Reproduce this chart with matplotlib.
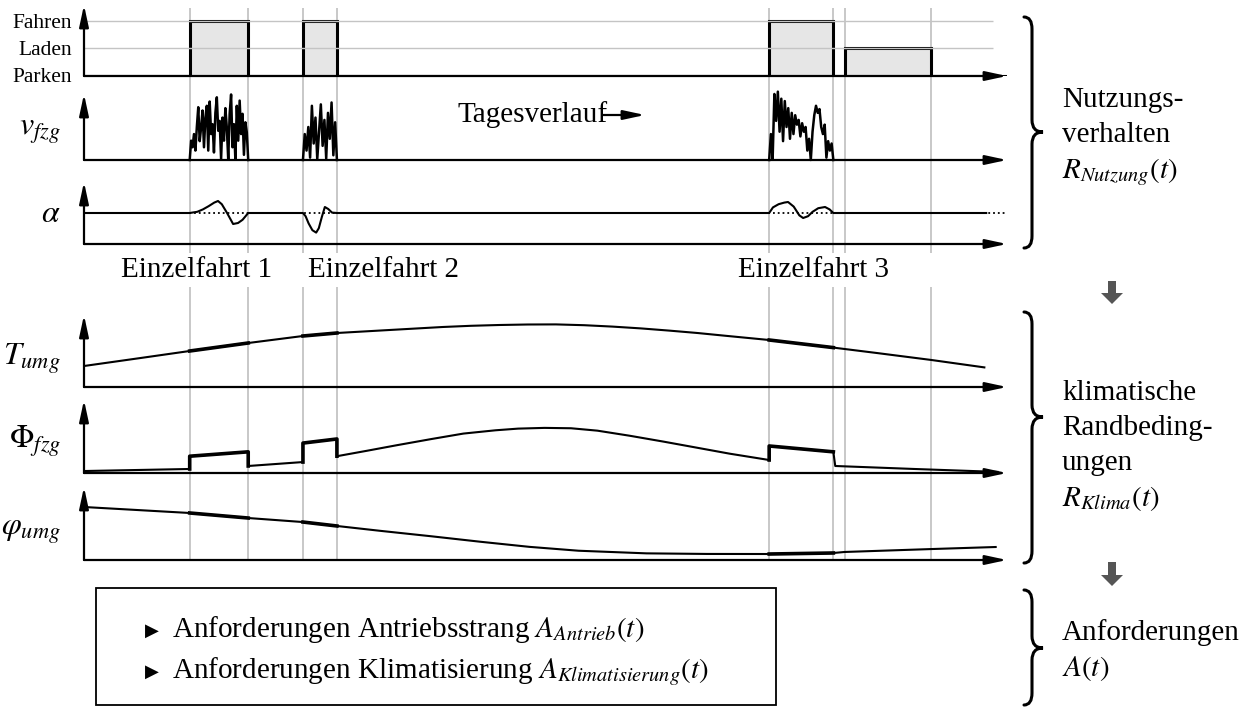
import numpy as np
import matplotlib
matplotlib.use('Agg')
import matplotlib.pyplot as plt
from matplotlib.path import Path
from matplotlib.patches import PathPatch, Rectangle, FancyArrow

plt.rcParams['font.family'] = ['Liberation Serif', 'DejaVu Sans']
plt.rcParams['mathtext.fontset'] = 'stix'

W, H = 1258, 708

# time axis in hours over one day
T_END = 24.45
T_EVENTS = [2.8, 4.35, 5.8, 6.7, 18.15, 19.85, 20.15, 22.45]

# usage state: 0 Parken, 1 Laden, 2 Fahren
STATE_LABELS = ['Parken', 'Laden', 'Fahren']
STATE_EDGES = [0, 2.8, 4.35, 5.8, 6.7, 18.15, 19.85, 20.15, 22.45, T_END]
STATE_VALUES = [0, 2, 0, 2, 0, 2, 0, 1, 0]

TRIPS = [(2.8, 4.35), (5.8, 6.7), (18.15, 19.85)]
TRIP_LABELS = ['Einzelfahrt 1', 'Einzelfahrt 2', 'Einzelfahrt 3']

# vehicle speed per trip (km/h, equally spaced samples)
V_TRIP1 = [0, 41, 27, 55, 20, 70, 112, 40, 69, 105, 27, 90, 115, 20, 124, 55, 76, 16, 100,
           133, 62, 83, 2, 90, 41, 110, 69, 1, 98, 139, 27, 76, 1, 115, 41, 126, 55, 98,
           11, 80, 59, 0]
V_TRIP2 = [0, 55, 20, 70, 5, 115, 35, 90, 2, 60, 118, 30, 85, 3, 100, 45, 122, 10, 80, 0]
V_TRIP3 = [0, 55, 2, 140, 83, 145, 60, 130, 40, 125, 70, 110, 45, 100, 55, 95, 75, 85, 50,
           78, 60, 70, 20, 45, 0, 60, 95, 115, 100, 108, 70, 55, 75, 5, 40, 20, 35, 0]
V_TRIPS = [V_TRIP1, V_TRIP2, V_TRIP3]

# road gradient
ALPHA_T = [0,
           2.8, 3.0, 3.15, 3.3, 3.45, 3.55, 3.65, 3.79, 3.95, 4.08, 4.2, 4.35,
           5.8, 5.87, 5.95, 6.05, 6.15, 6.22, 6.3, 6.38, 6.47, 6.57, 6.7,
           18.15, 18.25, 18.4, 18.55, 18.65, 18.8, 18.95, 19.05, 19.18, 19.3, 19.45, 19.63, 19.75, 19.85,
           23.9]
ALPHA = [0,
         0, 0.3, 0.9, 1.7, 2.6, 3.0, 2.2, 0.0, -2.75, -2.5, -1.7, 0,
         0, -0.8, -2.6, -4.3, -4.9, -3.8, -1.0, 1.5, 1.0, 0.1, 0,
         0, 1.4, 2.2, 2.6, 2.75, 1.6, -0.6, -1.25, -0.8, 0.3, 1.2, 1.5, 0.9, 0,
         0]

# ambient temperature
T_UMG_T = [0, 1.5, 2.8, 4.35, 5.8, 6.7, 8, 9.5, 10.25, 11, 11.75, 12.5, 13.25, 14, 14.75,
           15.5, 16.25, 17, 18.15, 19.85, 21, 22.45, 23.85]
T_UMG = [10.5, 14.5, 18, 22, 25.5, 27, 28.4, 30, 30.6, 31, 31.25, 31.3, 30.9, 30.2, 29.3,
         28.2, 27, 25.6, 23.5, 19.7, 17, 13.5, 9.8]

# vehicle radiation load
PHI_T = [0, 2.8, 2.8, 4.35, 4.35, 5.8, 5.8, 6.7, 6.7, 7.5, 8.28, 9.2, 10.05, 10.9, 11.5,
         12.2, 12.9, 13.6, 14.46, 15.35, 16.2, 17.1, 18.15, 18.15, 19.85, 19.9, 22, 24.2]
PHI = [2.7, 5.5, 23, 29, 9.6, 15, 41, 46.6, 23, 30.5, 38, 46.5, 54, 58.5, 60.8,
       61.8, 61.3, 58, 51, 43, 35, 26.5, 17.8, 37, 29, 9.6, 5.5, 1.5]

# ambient relative humidity
HUM_T = [0, 2.8, 4.35, 5.8, 6.7, 7.84, 9.2, 10.5, 11.8, 13.1, 14.9, 16.5, 18.15, 19.85,
         20.15, 22.45, 24.15]
HUM = [72.6, 64.4, 57.5, 52, 46.6, 40, 32.5, 25, 18, 12.7, 9.1, 8.3, 8.2, 9.6,
       11, 15, 17.8]

fig = plt.figure(figsize=(W / 100, H / 100), dpi=100)
fig.patch.set_facecolor('white')

X0, X1 = 84, 1007


def box_axes(top, bottom):
    return fig.add_axes([X0 / W, 1 - bottom / H, (X1 - X0) / W, (bottom - top) / H])


arrow_style = dict(arrowstyle='-|>,head_length=1.3,head_width=0.28', color='k', lw=1.6,
                   shrinkA=0, shrinkB=0)


def panel(top, bottom, ylim):
    ax = box_axes(top, bottom)
    ax.set_xlim(0, T_END)
    ax.set_ylim(*ylim)
    ax.axis('off')
    ax.annotate('', xy=(1, 0), xytext=(0, 0), xycoords='axes fraction',
                arrowprops=arrow_style, annotation_clip=False)
    ax.annotate('', xy=(0, 1), xytext=(0, 0), xycoords='axes fraction',
                arrowprops=arrow_style, annotation_clip=False)
    return ax


# gray event lines
for top, bottom in [(8, 253), (287, 560)]:
    g = box_axes(top, bottom)
    g.set_xlim(0, T_END)
    g.axis('off')
    for t in T_EVENTS:
        g.axvline(t, color='#c4c4c4', lw=1.3)

# state panel
ax1 = panel(5, 76, (0, 2.58))
ax1.hlines([1, 2], 0, 24.08, color='#c4c4c4', lw=1)
ax1.stairs(STATE_VALUES, STATE_EDGES, baseline=0, fill=True, color='#e6e6e6')
ax1.stairs(STATE_VALUES, STATE_EDGES, baseline=None, color='k', lw=2.2)

# speed panel
ax2 = panel(94, 160, (0, 140))
for (a, b), v in zip(TRIPS, V_TRIPS):
    ax2.plot(np.linspace(a, b, len(v)), v, color='k', lw=1.8, clip_on=False)

# gradient panel
ax3 = panel(182, 244, (-7.75, 7.75))
ax3.plot([0, T_END], [0, 0], color='k', lw=1.3, ls=':')
ax3.plot(ALPHA_T, ALPHA, color='k', lw=1.5)


def thick_trips(ax, t, y):
    t = np.asarray(t)
    y = np.asarray(y)
    ax.plot(t, y, color='k', lw=1.5)
    for a, b in TRIPS:
        m = (t >= a) & (t <= b)
        ax.plot(t[m], y[m], color='k', lw=2.6)


ax4 = panel(315, 387, (0, 36))
thick_trips(ax4, T_UMG_T, T_UMG)
ax5 = panel(400, 473, (0, 100))
thick_trips(ax5, PHI_T, PHI)
ax6 = panel(487, 560, (0, 100))
thick_trips(ax6, HUM_T, HUM)

# overlay for labels, braces, box
ov = fig.add_axes([0, 0, 1, 1])
ov.set_xlim(0, W)
ov.set_ylim(H, 0)
ov.axis('off')

for lab, yb in zip(STATE_LABELS, [82, 55, 28]):
    ov.text(72, yb, lab, ha='right', va='baseline', fontsize=15.5)

math_labels = [(r'$v_{fzg}$', 135), (r'$\alpha$', 222), (r'$T_{umg}$', 365),
               (r'$\Phi_{fzg}$', 448), (r'$\varphi_{umg}$', 535)]
for lab, yb in math_labels:
    ov.text(61, yb, lab, ha='right', va='baseline', fontsize=23)

for lab, xc in zip(TRIP_LABELS, [197, 383, 814]):
    ov.text(xc, 277, lab, ha='center', va='baseline', fontsize=21)

ov.text(457, 122, 'Tagesverlauf', ha='left', va='baseline', fontsize=21)
ov.annotate('', xy=(645, 115), xytext=(603, 115),
            arrowprops=dict(arrowstyle='-|>,head_length=1.3,head_width=0.28', color='k', lw=1.6,
                            shrinkA=0, shrinkB=0))


def brace(ax, x, y0, y1, ym, w_end=8, w_tip=11, r=12):
    verts = [(x - w_end, y0), (x, y0), (x, y0 + r), (x, ym - r), (x, ym), (x + w_tip, ym),
             (x, ym), (x, ym + r), (x, y1 - r), (x, y1), (x - w_end, y1)]
    codes = [Path.MOVETO, Path.CURVE3, Path.CURVE3, Path.LINETO, Path.CURVE3, Path.CURVE3,
             Path.CURVE3, Path.CURVE3, Path.LINETO, Path.CURVE3, Path.CURVE3]
    ax.add_patch(PathPatch(Path(verts, codes), fill=False, lw=2.2, capstyle='round'))


brace(ov, 1032, 17, 248, 132)
brace(ov, 1032, 312, 563, 417)
brace(ov, 1032, 590, 705, 648)

right_text = [('Nutzungs-', 107), ('verhalten', 142), (r'$R_{Nutzung}(t)$', 178),
              ('klimatische', 400), ('Randbeding-', 435), ('ungen', 470), (r'$R_{Klima}(t)$', 506),
              ('Anforderungen', 640), (r'$A(t)$', 676)]
for lab, yb in right_text:
    ov.text(1062, yb, lab, ha='left', va='baseline', fontsize=21)

for y0, y1 in [(281, 304), (562, 586)]:
    ov.add_patch(FancyArrow(1112, y0, 0, y1 - y0, width=8, head_width=22, head_length=11,
                            length_includes_head=True, color='#555555', lw=0))

ov.add_patch(Rectangle((96, 588), 680, 117, fill=False, lw=1.3, edgecolor='k'))
box_lines = [(r'Anforderungen Antriebsstrang $A_{Antrieb}(t)$', 637),
             (r'Anforderungen Klimatisierung $A_{Klimatisierung}(t)$', 678)]
for lab, yb in box_lines:
    ov.text(145, yb - 1, '\u25B6', ha='left', va='baseline', fontsize=13, family='DejaVu Sans')
    ov.text(172, yb, lab, ha='left', va='baseline', fontsize=21)

fig.savefig('out.png', dpi=100, facecolor='white')
